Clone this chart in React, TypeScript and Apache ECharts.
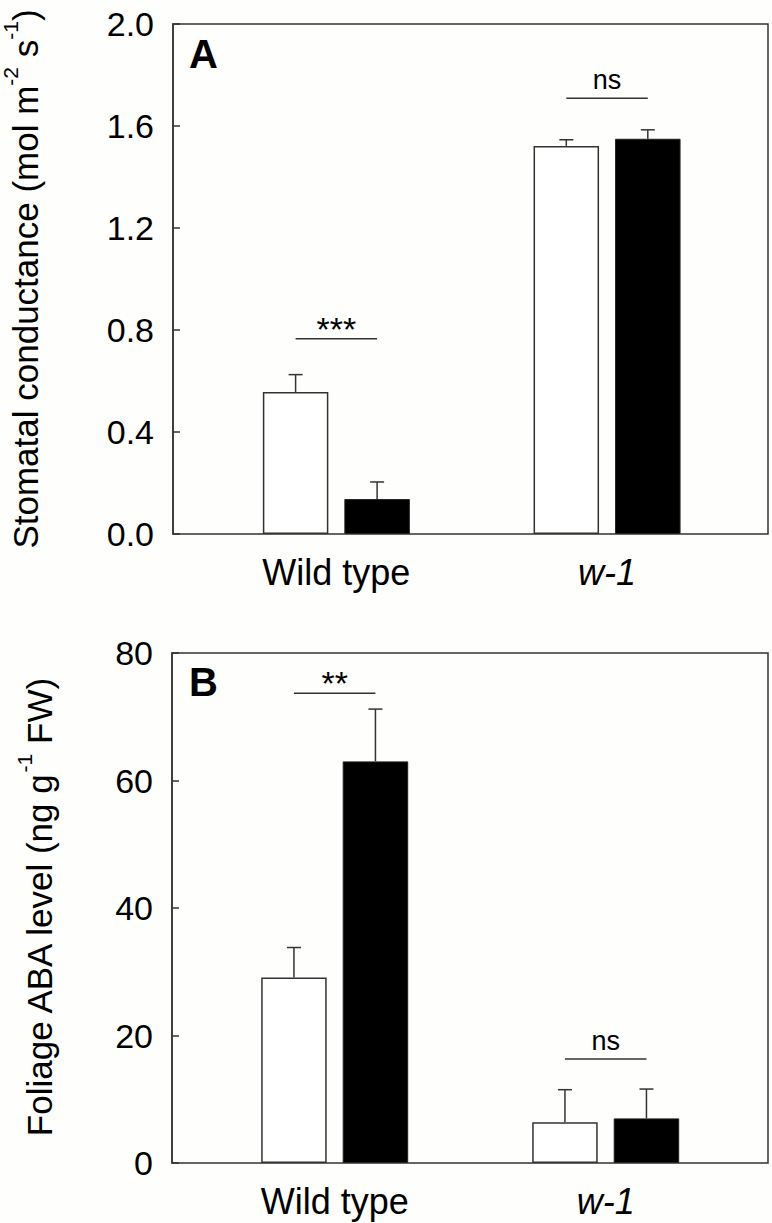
import React, { useEffect, useRef } from "react";
import * as echarts from "echarts";

// ---- data ----
const categories = ["Wild type", "w-1"];
// Panel A: stomatal conductance (mol m-2 s-1)
const conductanceControl = [0.557, 1.522];
const conductanceControlErr = [0.068, 0.024];
const conductanceTreated = [0.137, 1.55];
const conductanceTreatedErr = [0.067, 0.035];
const conductanceSigLabels = ["***", "ns"];
const conductanceSigLevel = [0.766, 1.709];
const conductanceTicks = [0, 0.4, 0.8, 1.2, 1.6, 2.0];
// Panel B: foliage ABA level (ng g-1 FW)
const abaControl = [29.1, 6.4];
const abaControlErr = [4.7, 5.1];
const abaTreated = [63.0, 7.0];
const abaTreatedErr = [8.2, 4.6];
const abaSigLabels = ["**", "ns"];
const abaSigLevel = [73.7, 16.3];
const abaTicks = [0, 20, 40, 60, 80];

const FONT = "'Liberation Sans', Arial, Helvetica, sans-serif";
const BAR_W = 65.5;
const GAP = 16;
const HALF = (BAR_W + GAP) / 2;
const LINE = "#333";

function errorSeries(xi: number, yi: number, ctrl: number[], ctrlErr: number[], trt: number[], trtErr: number[]) {
  const data: number[][] = [];
  ctrl.forEach((v, i) => data.push([i, v, ctrlErr[i], -1]));
  trt.forEach((v, i) => data.push([i, v, trtErr[i], 1]));
  return {
    type: "custom",
    xAxisIndex: xi,
    yAxisIndex: yi,
    z: 5,
    data,
    renderItem: (_p: any, api: any) => {
      const cat = api.value(0);
      const mean = api.value(1);
      const err = api.value(2);
      const side = api.value(3);
      const base = api.coord([cat, mean]);
      const top = api.coord([cat, mean + err]);
      const x = base[0] + side * HALF;
      const style = { stroke: LINE, lineWidth: 1.5 };
      return {
        type: "group",
        children: [
          { type: "line", shape: { x1: x, y1: base[1], x2: x, y2: top[1] }, style },
          { type: "line", shape: { x1: x - 7, y1: top[1], x2: x + 7, y2: top[1] }, style },
        ],
      };
    },
  };
}

function sigSeries(xi: number, yi: number, levels: number[], labels: string[]) {
  return {
    type: "custom",
    xAxisIndex: xi,
    yAxisIndex: yi,
    z: 5,
    data: levels.map((v, i) => [i, v]),
    renderItem: (p: any, api: any) => {
      const c = api.coord([api.value(0), api.value(1)]);
      const label = labels[p.dataIndex];
      const isStar = label.indexOf("*") >= 0;
      return {
        type: "group",
        children: [
          {
            type: "line",
            shape: { x1: c[0] - HALF, y1: c[1], x2: c[0] + HALF, y2: c[1] },
            style: { stroke: LINE, lineWidth: 1.5 },
          },
          {
            type: "text",
            x: c[0],
            y: isStar ? c[1] + 7 : c[1] - 5,
            style: {
              text: label,
              fill: "#000",
              font: (isStar ? "34px " : "27px ") + FONT,
              align: "center",
              verticalAlign: "bottom",
            },
          },
        ],
      };
    },
  };
}

function barPair(xi: number, yi: number, ctrl: number[], trt: number[]) {
  return [
    {
      type: "bar",
      xAxisIndex: xi,
      yAxisIndex: yi,
      data: ctrl,
      barWidth: BAR_W,
      barGap: (GAP / BAR_W) * 100 + "%",
      itemStyle: { color: "#ffffff", borderColor: LINE, borderWidth: 1.5 },
    },
    {
      type: "bar",
      xAxisIndex: xi,
      yAxisIndex: yi,
      data: trt,
      barWidth: BAR_W,
      barGap: (GAP / BAR_W) * 100 + "%",
      itemStyle: { color: "#000000", borderColor: "#222", borderWidth: 1 },
    },
  ];
}

function valueAxis(grid: number, ticks: number[], digits: number, name: string, gap: number) {
  return {
    type: "value",
    gridIndex: grid,
    min: ticks[0],
    max: ticks[ticks.length - 1],
    interval: ticks[1] - ticks[0],
    axisLine: { show: true, lineStyle: { color: LINE, width: 1.5 } },
    axisTick: { show: true, inside: true, length: 7, lineStyle: { color: LINE, width: 1.5 } },
    splitLine: { show: false },
    axisLabel: {
      fontSize: 34,
      fontFamily: FONT,
      color: "#000",
      margin: 19,
      formatter: (v: number) => v.toFixed(digits),
    },
    name,
    nameLocation: "middle",
    nameRotate: 90,
    nameGap: gap,
    nameTextStyle: {
      fontFamily: FONT,
      color: "#000",
      fontSize: 35,
      rich: {
        sup: { fontSize: 21, fontFamily: FONT, color: "#000", padding: [0, 0, 30, 0] },
      },
    },
  };
}

function hiddenValueAxis(grid: number, ticks: number[]) {
  return { type: "value", gridIndex: grid, min: ticks[0], max: ticks[ticks.length - 1], show: false };
}

const categoryData = categories.map((c) =>
  c === "w-1" ? { value: c, textStyle: { fontStyle: "italic" } } : { value: c }
);

function catAxis(grid: number) {
  return {
    type: "category",
    gridIndex: grid,
    data: categoryData,
    axisLine: { show: false },
    axisTick: { show: false },
    axisLabel: { fontSize: 36, fontFamily: FONT, color: "#000", margin: 20 },
  };
}

export default function App() {
  const ref = useRef<HTMLDivElement>(null);
  useEffect(() => {
    document.body.style.margin = "0";
    const chart = echarts.init(ref.current!, null, { renderer: "svg" });
    const frame = { show: true, borderColor: LINE, borderWidth: 1.5, backgroundColor: "transparent", outerBoundsMode: "none", containLabel: false };
    const inner = { outerBoundsMode: "none", containLabel: false };
    chart.setOption({
      animation: false,
      backgroundColor: "#fefefc",
      grid: [
        { left: 173, top: 24, width: 595, height: 510, ...frame },
        { left: 201, top: 24, width: 541.4, height: 510, ...inner },
        { left: 172, top: 653, width: 596, height: 510, ...frame },
        { left: 199.2, top: 653, width: 542, height: 510, ...inner },
      ],
      xAxis: [
        { type: "category", gridIndex: 0, data: [""], show: false },
        catAxis(1),
        { type: "category", gridIndex: 2, data: [""], show: false },
        catAxis(3),
      ],
      yAxis: [
        valueAxis(0, conductanceTicks, 1, "Stomatal conductance (mol m{sup|-2} s{sup|-1})", 122),
        hiddenValueAxis(1, conductanceTicks),
        valueAxis(2, abaTicks, 0, "Foliage ABA level (ng g{sup|-1} FW)", 107),
        hiddenValueAxis(3, abaTicks),
      ],
      graphic: [
        { type: "text", left: 189, top: 34, style: { text: "A", font: "bold 40px " + FONT, fill: "#000" } },
        { type: "text", left: 189, top: 662, style: { text: "B", font: "bold 40px " + FONT, fill: "#000" } },
      ],
      series: [
        ...barPair(1, 1, conductanceControl, conductanceTreated),
        errorSeries(1, 1, conductanceControl, conductanceControlErr, conductanceTreated, conductanceTreatedErr),
        sigSeries(1, 1, conductanceSigLevel, conductanceSigLabels),
        ...barPair(3, 3, abaControl, abaTreated),
        errorSeries(3, 3, abaControl, abaControlErr, abaTreated, abaTreatedErr),
        sigSeries(3, 3, abaSigLevel, abaSigLabels),
      ],
    });
    return () => chart.dispose();
  }, []);
  return (
    <div
      ref={ref}
      style={{ position: "absolute", left: 0, top: 0, width: 772, height: 1223 }}
    />
  );
}
